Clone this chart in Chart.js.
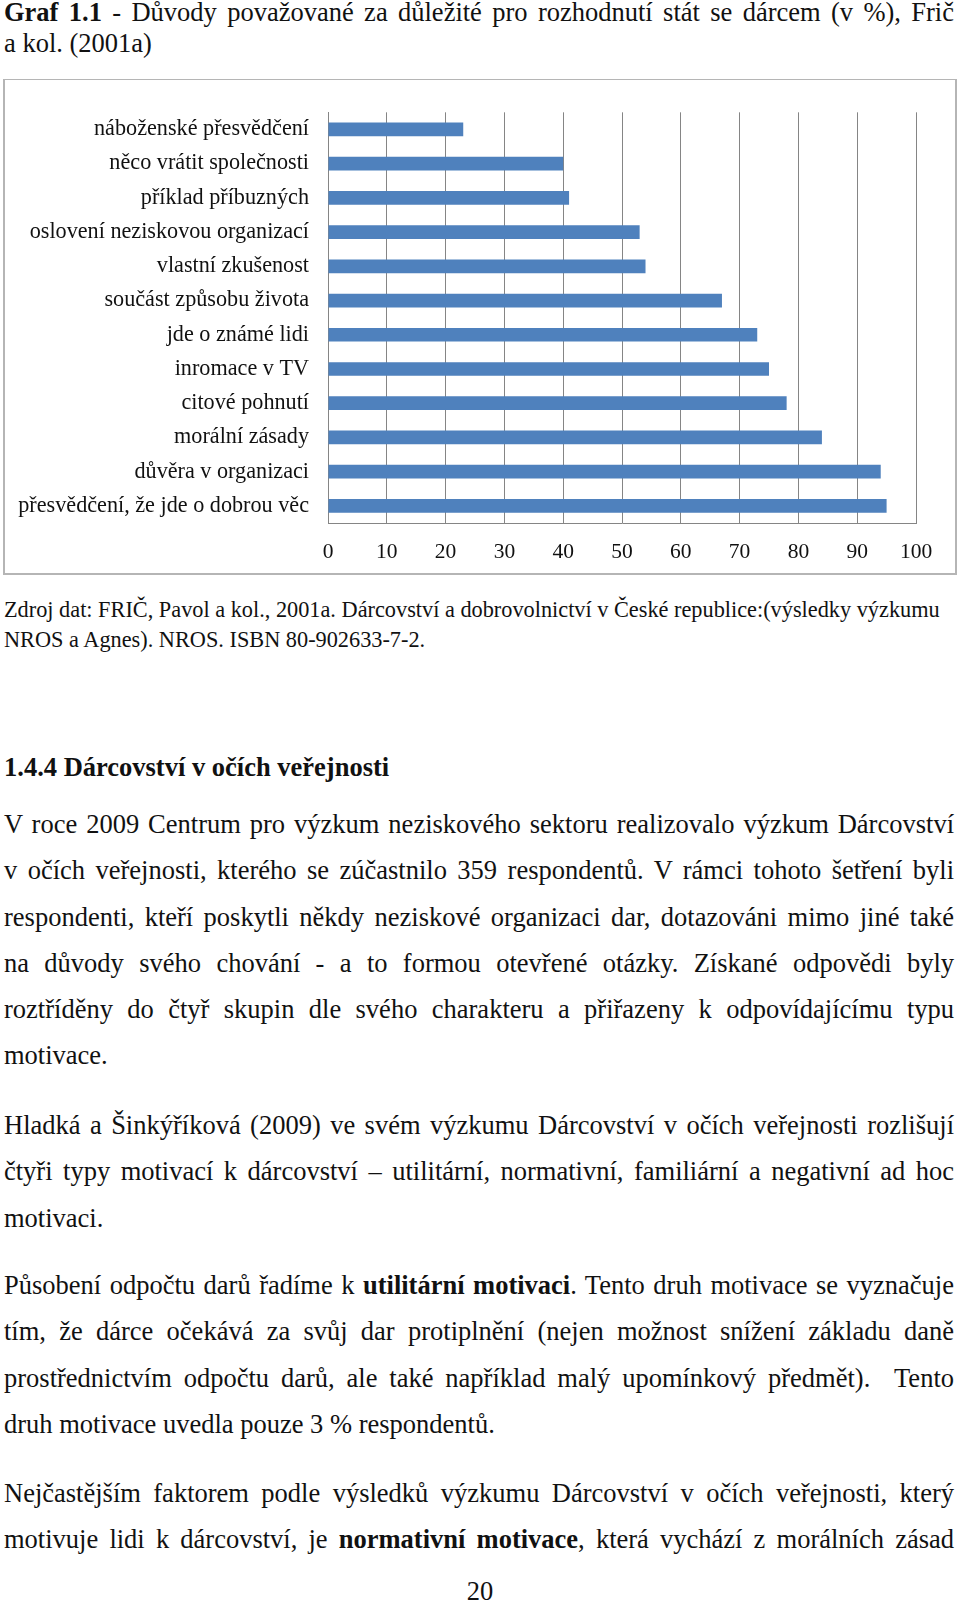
<!DOCTYPE html>
<html lang="cs">
<head>
<meta charset="utf-8">
<script src="https://cdn.jsdelivr.net/npm/chart.js@4/dist/chart.umd.min.js"></script>
<style>
  html, body { margin: 0; padding: 0; background: #fff; }
  body { width: 960px; height: 1603px; position: relative; overflow: hidden;
         font-family: "Liberation Serif", "Times New Roman", serif; color: #111; }
  .blk { position: absolute; left: 4px; width: 950px; margin: 0; }
  .blk span { display: block; white-space: nowrap; }
  .j span { text-align: justify; text-align-last: justify; }
  .j span.last { text-align-last: left; }
  .title { font-size: 26.5px; line-height: 31px; }
  .src { font-size: 22.3px; line-height: 30px; }
  .body { font-size: 26.5px; line-height: 46.3px; }
  #chartBox { position: absolute; left: 3px; top: 79px; width: 950px; height: 493px;
              border: 2px solid #b5b5b5; border-top-width: 1px; }
  #chartBox canvas { display: block; }
</style>
</head>
<body>

<p class="blk j title" style="top:-3px">
  <span><b>Graf 1.1</b> - Důvody považované za důležité pro rozhodnutí stát se dárcem (v %), Frič</span>
  <span class="last">a kol. (2001a)</span>
</p>

<div id="chartBox"><canvas id="reasonsChart" width="950" height="493"></canvas></div>

<p class="blk src" style="top:595px">
  <span>Zdroj dat: FRIČ, Pavol a kol., 2001a. Dárcovství a dobrovolnictví v České republice:(výsledky výzkumu</span>
  <span>NROS a Agnes). NROS. ISBN 80-902633-7-2.</span>
</p>

<p class="blk body" style="top:744px; line-height:46px"><span><b>1.4.4 Dárcovství v očích veřejnosti</b></span></p>

<p class="blk j body" style="top:801px">
  <span>V roce 2009 Centrum pro výzkum neziskového sektoru realizovalo výzkum Dárcovství</span>
  <span>v očích veřejnosti, kterého se zúčastnilo 359 respondentů. V rámci tohoto šetření byli</span>
  <span>respondenti, kteří poskytli někdy neziskové organizaci dar, dotazováni mimo jiné také</span>
  <span>na důvody svého chování - a to formou otevřené otázky. Získané odpovědi byly</span>
  <span>roztříděny do čtyř skupin dle svého charakteru a přiřazeny k odpovídajícímu typu</span>
  <span class="last">motivace.</span>
</p>

<p class="blk j body" style="top:1102px">
  <span>Hladká a Šinkýříková (2009) ve svém výzkumu Dárcovství v očích veřejnosti rozlišují</span>
  <span>čtyři typy motivací k dárcovství – utilitární, normativní, familiární a negativní ad hoc</span>
  <span class="last">motivaci.</span>
</p>

<p class="blk j body" style="top:1262px">
  <span>Působení odpočtu darů řadíme k <b>utilitární motivaci</b>. Tento druh motivace se vyznačuje</span>
  <span>tím, že dárce očekává za svůj dar protiplnění (nejen možnost snížení základu daně</span>
  <span>prostřednictvím odpočtu darů, ale také například malý upomínkový předmět). &nbsp;Tento</span>
  <span class="last">druh motivace uvedla pouze 3 % respondentů.</span>
</p>

<p class="blk j body" style="top:1470px">
  <span>Nejčastějším faktorem podle výsledků výzkumu Dárcovství v očích veřejnosti, který</span>
  <span>motivuje lidi k dárcovství, je <b>normativní motivace</b>, která vychází z morálních zásad</span>
</p>

<p class="blk body" style="top:1568px; left:0; width:960px; text-align:center"><span>20</span></p>

<script>
// Graf 1.1 - reasons considered important for becoming a donor (in %)
const reasonLabels = [
  'náboženské přesvědčení',
  'něco vrátit společnosti',
  'příklad příbuzných',
  'oslovení neziskovou organizací',
  'vlastní zkušenost',
  'součást způsobu života',
  'jde o známé lidi',
  'inromace v TV',
  'citové pohnutí',
  'morální zásady',
  'důvěra v organizaci',
  'přesvědčení, že jde o dobrou věc'
];
const reasonValues = [23, 40, 41, 53, 54, 67, 73, 75, 78, 84, 94, 95];
const axisMin = 0;
const axisMax = 100;
const axisStep = 10;

const gridColor = '#858585';
const serif = '"Liberation Serif", "Times New Roman", serif';

new Chart(document.getElementById('reasonsChart'), {
  type: 'bar',
  data: {
    labels: reasonLabels,
    datasets: [
      {
        data: reasonValues,
        backgroundColor: '#4f81bd',
        borderWidth: 0,
        categoryPercentage: 1,
        barPercentage: 0.4
      }
    ]
  },
  options: {
    indexAxis: 'y',
    responsive: false,
    animation: false,
    layout: { padding: { top: 24, right: 39, bottom: 0, left: 0 } },
    plugins: {
      legend: { display: false },
      tooltip: { enabled: false }
    },
    scales: {
      x: {
        min: axisMin,
        max: axisMax,
        ticks: { stepSize: axisStep, color: '#111', font: { family: serif, size: 21.5 }, padding: 16 },
        grid: { color: gridColor, lineWidth: 1, drawTicks: false },
        border: { display: true, color: gridColor, width: 1 },
        afterFit: (scale) => { scale.height = 50; }
      },
      y: {
        ticks: { color: '#111', font: { family: serif, size: 22.2 }, padding: 19, autoSkip: false },
        grid: { display: false, drawTicks: false },
        border: { display: true, color: gridColor, width: 1 },
        afterFit: (scale) => { scale.width = 323; }
      }
    }
  }
});
</script>
</body>
</html>
